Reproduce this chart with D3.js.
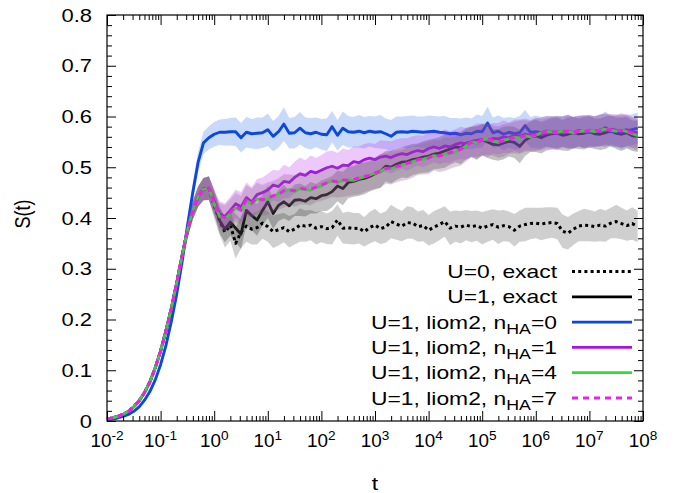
<!DOCTYPE html>
<html>
<head>
<meta charset="utf-8">
<script src="https://cdn.jsdelivr.net/npm/d3@7/dist/d3.min.js"></script>
<style>
  body { margin: 0; background: #fff; }
  text { font-family: "Liberation Sans", Arial, Helvetica, sans-serif; fill: #000; }
</style>
</head>
<body>
<svg id="chart" width="676" height="493"></svg>
<script>
// sampling grid: log10(t)
const logT = [
  -2.0,-1.9,-1.8,-1.7,-1.6,-1.5,-1.4,-1.3,-1.2,-1.1,
  -1.0,-0.9,-0.8,-0.7,-0.6,-0.5,-0.4,-0.3,-0.2,-0.1,
  0.0,0.1,0.2,0.3,0.4,0.5,0.6,0.7,0.8,0.9,
  1.0,1.1,1.2,1.3,1.4,1.5,1.6,1.7,1.8,1.9,
  2.0,2.1,2.2,2.3,2.4,2.5,2.6,2.7,2.8,2.9,
  3.0,3.1,3.2,3.3,3.4,3.5,3.6,3.7,3.8,3.9,
  4.0,4.1,4.2,4.3,4.4,4.5,4.6,4.7,4.8,4.9,
  5.0,5.1,5.2,5.3,5.4,5.5,5.6,5.7,5.8,5.9,
  6.0,6.1,6.2,6.3,6.4,6.5,6.6,6.7,6.8,6.9,
  7.0,7.1,7.2,7.3,7.4,7.5,7.6,7.7,7.8,7.9
];

// S(t), U=0 exact
const sU0Exact = [
  0.004,0.006,0.009,0.013,0.019,0.028,0.040,0.056,0.077,0.105,
  0.138,0.178,0.222,0.272,0.325,0.375,0.415,0.442,0.457,0.459,
  0.425,0.395,0.372,0.386,0.350,0.372,0.384,0.378,0.381,0.390,
  0.383,0.373,0.377,0.381,0.373,0.378,0.386,0.384,0.386,0.380,
  0.383,0.379,0.381,0.396,0.380,0.381,0.379,0.380,0.373,0.381,
  0.386,0.379,0.382,0.393,0.388,0.384,0.391,0.390,0.383,0.385,
  0.376,0.382,0.387,0.393,0.380,0.384,0.382,0.386,0.383,0.385,
  0.380,0.384,0.387,0.382,0.385,0.383,0.376,0.384,0.387,0.389,
  0.390,0.388,0.390,0.391,0.389,0.374,0.370,0.378,0.384,0.386,
  0.385,0.383,0.386,0.384,0.390,0.393,0.389,0.385,0.389,0.383
];

// S(t), U=1 exact
const sU1Exact = [
  0.004,0.006,0.009,0.013,0.019,0.028,0.040,0.056,0.077,0.105,
  0.138,0.178,0.222,0.272,0.325,0.375,0.415,0.442,0.457,0.459,
  0.432,0.395,0.378,0.392,0.380,0.368,0.415,0.405,0.396,0.415,
  0.432,0.409,0.425,0.432,0.424,0.435,0.436,0.433,0.440,0.438,
  0.444,0.446,0.452,0.463,0.458,0.470,0.472,0.476,0.478,0.482,
  0.487,0.492,0.502,0.500,0.506,0.510,0.511,0.515,0.517,0.520,
  0.522,0.526,0.528,0.532,0.536,0.540,0.538,0.547,0.550,0.548,
  0.554,0.550,0.545,0.544,0.548,0.551,0.549,0.541,0.553,0.560,
  0.562,0.558,0.563,0.566,0.567,0.563,0.565,0.568,0.566,0.567,
  0.570,0.566,0.565,0.568,0.572,0.567,0.565,0.568,0.562,0.561
];

// S(t), U=1 liom2, nHA=0
const sHA0 = [
  0.003,0.004,0.006,0.009,0.013,0.019,0.028,0.041,0.058,0.081,
  0.111,0.149,0.196,0.250,0.313,0.384,0.450,0.510,0.548,0.558,
  0.565,0.569,0.569,0.570,0.570,0.558,0.569,0.566,0.567,0.568,
  0.574,0.561,0.570,0.585,0.567,0.568,0.577,0.568,0.566,0.569,
  0.565,0.564,0.580,0.563,0.577,0.570,0.569,0.571,0.568,0.571,
  0.569,0.570,0.566,0.561,0.569,0.570,0.569,0.571,0.570,0.569,
  0.570,0.571,0.569,0.568,0.566,0.567,0.564,0.567,0.566,0.571,
  0.570,0.587,0.568,0.571,0.565,0.569,0.566,0.568,0.582,0.569,
  0.570,0.568,0.571,0.570,0.569,0.571,0.570,0.568,0.572,0.570,
  0.569,0.571,0.572,0.578,0.570,0.571,0.569,0.572,0.574,0.577
];

// S(t), U=1 liom2, nHA=1
const sHA1 = [
  0.004,0.006,0.009,0.013,0.019,0.028,0.040,0.056,0.077,0.105,
  0.138,0.178,0.222,0.272,0.325,0.375,0.415,0.442,0.457,0.459,
  0.432,0.408,0.403,0.415,0.428,0.422,0.440,0.432,0.446,0.450,
  0.455,0.465,0.462,0.472,0.470,0.480,0.487,0.484,0.492,0.489,
  0.494,0.499,0.502,0.498,0.504,0.503,0.511,0.509,0.515,0.518,
  0.515,0.520,0.522,0.519,0.524,0.527,0.525,0.530,0.533,0.531,
  0.537,0.540,0.537,0.542,0.540,0.545,0.548,0.546,0.551,0.553,
  0.555,0.552,0.557,0.556,0.560,0.558,0.563,0.561,0.565,0.563,
  0.566,0.564,0.567,0.568,0.566,0.569,0.570,0.568,0.571,0.570,
  0.572,0.570,0.574,0.572,0.575,0.573,0.571,0.574,0.569,0.568
];

// S(t), U=1 liom2, nHA=4
const sHA4 = [
  0.004,0.006,0.009,0.013,0.019,0.028,0.040,0.056,0.077,0.105,
  0.138,0.178,0.222,0.272,0.325,0.375,0.415,0.442,0.457,0.459,
  0.428,0.403,0.398,0.409,0.420,0.414,0.434,0.428,0.438,0.434,
  0.437,0.442,0.448,0.452,0.456,0.452,0.458,0.456,0.455,0.460,
  0.463,0.470,0.472,0.470,0.474,0.475,0.474,0.478,0.481,0.485,
  0.488,0.492,0.498,0.497,0.501,0.504,0.507,0.511,0.514,0.516,
  0.519,0.523,0.521,0.526,0.527,0.530,0.536,0.542,0.550,0.548,
  0.554,0.556,0.552,0.549,0.553,0.556,0.559,0.558,0.562,0.560,
  0.563,0.568,0.570,0.570,0.569,0.571,0.570,0.568,0.570,0.571,
  0.572,0.570,0.573,0.575,0.573,0.571,0.574,0.570,0.566,0.562
];

// S(t), U=1 liom2, nHA=7
const sHA7 = [
  0.004,0.006,0.009,0.013,0.019,0.028,0.040,0.056,0.077,0.105,
  0.138,0.178,0.222,0.272,0.325,0.375,0.415,0.442,0.457,0.459,
  0.430,0.405,0.400,0.411,0.423,0.416,0.436,0.429,0.440,0.436,
  0.439,0.444,0.447,0.454,0.455,0.454,0.459,0.457,0.457,0.461,
  0.465,0.469,0.473,0.471,0.475,0.474,0.476,0.479,0.482,0.484,
  0.489,0.493,0.497,0.499,0.502,0.503,0.508,0.510,0.515,0.517,
  0.518,0.524,0.522,0.525,0.529,0.531,0.535,0.543,0.549,0.550,
  0.553,0.557,0.553,0.550,0.552,0.557,0.558,0.560,0.561,0.562,
  0.564,0.567,0.571,0.569,0.570,0.570,0.571,0.569,0.571,0.570,
  0.573,0.571,0.572,0.574,0.574,0.572,0.573,0.571,0.568,0.565
];

// half-width of the sample spread, U=1 runs
const spreadU1 = [
  0.000,0.000,0.001,0.001,0.001,0.002,0.002,0.003,0.004,0.005,
  0.006,0.008,0.010,0.012,0.014,0.016,0.018,0.020,0.022,0.023,
  0.024,0.025,0.026,0.027,0.028,0.029,0.030,0.029,0.031,0.030,
  0.032,0.030,0.031,0.033,0.030,0.031,0.032,0.030,0.031,0.029,
  0.030,0.032,0.031,0.030,0.033,0.031,0.030,0.032,0.031,0.030,
  0.031,0.033,0.030,0.032,0.031,0.030,0.032,0.031,0.030,0.031,
  0.032,0.030,0.031,0.033,0.031,0.030,0.032,0.031,0.030,0.033,
  0.031,0.032,0.030,0.031,0.032,0.030,0.031,0.033,0.031,0.030,
  0.032,0.031,0.030,0.031,0.032,0.030,0.033,0.031,0.030,0.032,
  0.031,0.030,0.031,0.032,0.030,0.031,0.033,0.031,0.030,0.031
];

// half-width of the sample spread, U=0 run
const spreadU0 = [
  0.000,0.000,0.001,0.001,0.001,0.002,0.002,0.003,0.004,0.005,
  0.006,0.008,0.010,0.012,0.014,0.016,0.018,0.020,0.022,0.024,
  0.026,0.028,0.030,0.031,0.030,0.032,0.031,0.030,0.033,0.031,
  0.030,0.032,0.031,0.029,0.031,0.030,0.033,0.031,0.030,0.032,
  0.031,0.030,0.033,0.031,0.030,0.032,0.031,0.030,0.029,0.031,
  0.032,0.030,0.031,0.033,0.031,0.030,0.032,0.031,0.030,0.031,
  0.030,0.032,0.031,0.030,0.033,0.031,0.032,0.030,0.031,0.030,
  0.032,0.031,0.030,0.033,0.031,0.030,0.032,0.031,0.033,0.031,
  0.030,0.032,0.031,0.030,0.031,0.033,0.032,0.031,0.030,0.032,
  0.031,0.030,0.032,0.031,0.030,0.033,0.031,0.030,0.032,0.031
];

// legend text pieces
const labelMain = ["U=0, exact", "U=1, exact", "U=1, liom2, n", "U=1, liom2, n", "U=1, liom2, n", "U=1, liom2, n"];
const labelSub  = ["", "", "HA", "HA", "HA", "HA"];
const labelTail = ["", "", "=0", "=1", "=4", "=7"];

// axis tick labels
const xTickExp = [-2, -1, 0, 1, 2, 3, 4, 5, 6, 7, 8];
const yTickVals = [0, 0.1, 0.2, 0.3, 0.4, 0.5, 0.6, 0.7, 0.8];
const yTickText = ["0", "0.1", "0.2", "0.3", "0.4", "0.5", "0.6", "0.7", "0.8"];

const seriesDefs = [
  { vals: sU0Exact, spread: spreadU0, stroke: "#000000", fill: "rgba(0,0,0,0.19)",      dash: "3,3.2", width: 3 },
  { vals: sU1Exact, spread: spreadU1, stroke: "#1a1a1a", fill: "rgba(0,0,0,0.24)",      dash: null,    width: 2.8 },
  { vals: sHA0,     spread: spreadU1, stroke: "#0a48e0", fill: "rgba(20,90,230,0.23)",  dash: null,    width: 2.9 },
  { vals: sHA1,     spread: spreadU1, stroke: "#a414e6", fill: "rgba(180,30,240,0.24)", dash: null,    width: 2.8 },
  { vals: sHA4,     spread: spreadU1, stroke: "#2ee02e", fill: "rgba(60,160,60,0.16)",  dash: null,    width: 2.8 },
  { vals: sHA7,     spread: spreadU1, stroke: "#f01ee6", fill: "rgba(200,40,200,0.16)", dash: "6,5",   width: 2.8 }
];

const L = 107, R = 643, T = 15, B = 421;
const svg = d3.select("#chart");

const x = d3.scaleLog().domain([1e-2, 1e8]).range([L, R]);
const y = d3.scaleLinear().domain([0, 0.8]).range([B, T]);

const tVals = logT.map(v => Math.pow(10, v));

// bands and lines, one series after another
const plot = svg.append("g");
seriesDefs.forEach(s => {
  const pts = tVals.map((t, i) => ({ t, v: s.vals[i], e: s.spread[i] }));
  plot.append("path")
    .attr("d", d3.area().x(d => x(d.t)).y0(d => y(d.v - d.e)).y1(d => y(d.v + d.e))(pts))
    .attr("fill", s.fill)
    .attr("stroke", "none");
  plot.append("path")
    .attr("d", d3.line().x(d => x(d.t)).y(d => y(d.v))(pts))
    .attr("fill", "none")
    .attr("stroke", s.stroke)
    .attr("stroke-width", s.width)
    .attr("stroke-linejoin", "round")
    .attr("stroke-dasharray", s.dash);
});

// ticks on all four sides, pointing inward
const xMajor = xTickExp.map(e => Math.pow(10, e));
const xMinor = [];
xTickExp.slice(0, -1).forEach(e => { for (let k = 2; k <= 9; k++) xMinor.push(k * Math.pow(10, e)); });
const yMinor = d3.range(0, 41).map(i => i * 0.02).filter((v, i) => i % 5 !== 0);

function tickGroup(axis, tx, ty) {
  const g = svg.append("g").attr("transform", `translate(${tx},${ty})`).call(axis);
  g.select(".domain").remove();
  g.selectAll("text").remove();
  g.selectAll("line").attr("stroke", "#000").attr("stroke-width", 1);
  return g;
}
tickGroup(d3.axisBottom(x).tickValues(xMajor).tickSize(-10), 0, B);
tickGroup(d3.axisBottom(x).tickValues(xMinor).tickSize(-5), 0, B);
tickGroup(d3.axisTop(x).tickValues(xMajor).tickSize(-10), 0, T);
tickGroup(d3.axisTop(x).tickValues(xMinor).tickSize(-5), 0, T);
tickGroup(d3.axisLeft(y).tickValues(yTickVals).tickSize(-9), L, 0);
tickGroup(d3.axisLeft(y).tickValues(yMinor).tickSize(-5), L, 0);
tickGroup(d3.axisRight(y).tickValues(yTickVals).tickSize(-9), R, 0);
tickGroup(d3.axisRight(y).tickValues(yMinor).tickSize(-5), R, 0);

svg.append("rect")
  .attr("x", L).attr("y", T).attr("width", R - L).attr("height", B - T)
  .attr("fill", "none").attr("stroke", "#000").attr("stroke-width", 1.2);

// tick labels
const FS = 18, SX = 1.27, SXY = 1.22, SXX = 1.05;
xTickExp.forEach(e => {
  const t = svg.append("text")
    .attr("transform", `translate(${x(Math.pow(10, e))},447) scale(${SXX},1)`)
    .attr("text-anchor", "middle")
    .attr("font-size", FS);
  t.append("tspan").text("10");
  t.append("tspan").attr("dy", -7).attr("font-size", 13).text(e < 0 ? "-" + (-e) : String(e));
});
yTickVals.forEach((v, i) => {
  svg.append("text")
    .attr("transform", `translate(92,${y(v) + 6.5}) scale(${SXY},1)`)
    .attr("text-anchor", "end")
    .attr("font-size", FS)
    .text(yTickText[i]);
});

// axis titles
svg.append("text")
  .attr("transform", `translate(375,490) scale(${SX},1)`)
  .attr("text-anchor", "middle").attr("font-size", FS).text("t");
svg.append("text")
  .attr("transform", `translate(30,214) scale(${SX},1) rotate(-90)`)
  .attr("text-anchor", "middle").attr("font-size", FS).text("S(t)");

// legend
const legY0 = 271.5, legDY = 25.3;
seriesDefs.forEach((s, i) => {
  const cy = legY0 + i * legDY;
  const t = svg.append("text")
    .attr("transform", `translate(557,${cy + 6.5}) scale(${SX},1)`)
    .attr("text-anchor", "end")
    .attr("font-size", FS);
  t.append("tspan").text(labelMain[i]);
  if (labelSub[i]) {
    t.append("tspan").attr("dy", 5).attr("font-size", 14).text(labelSub[i]);
    t.append("tspan").attr("dy", -5).text(labelTail[i]);
  }
  svg.append("line")
    .attr("x1", 572).attr("x2", 632).attr("y1", cy).attr("y2", cy)
    .attr("stroke", i === 1 ? "#000" : s.stroke)
    .attr("stroke-width", s.width)
    .attr("stroke-dasharray", s.dash);
});
</script>
</body>
</html>
